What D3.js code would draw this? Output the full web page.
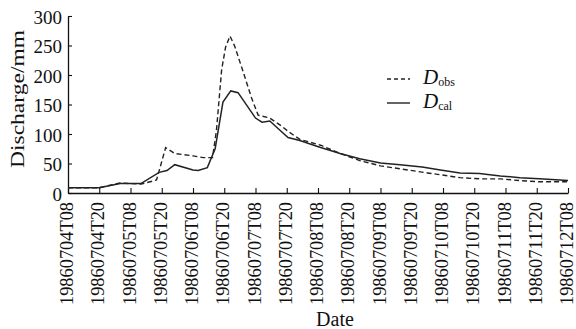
<!DOCTYPE html>
<html>
<head>
<meta charset="utf-8">
<script src="https://cdn.jsdelivr.net/npm/d3@7"></script>
<style>
  body { margin: 0; background: #fff; }
  text { font-family: "Liberation Serif", "DejaVu Serif", serif; fill: #111; }
</style>
</head>
<body>
<div id="main"></div>
<script>
// hours after 1986-07-04 08:00
var obsHours = [0, 12, 20, 28, 34, 37.5, 41, 48, 52, 55.5, 57, 59, 60.5, 62.2, 64, 67, 70.5, 73, 77.5, 81.5, 85, 89, 97, 104.5, 112, 120, 127.5, 138, 143, 150.5, 158, 166, 173.5, 181, 192]
var obsValues = [9, 9, 17, 15, 22, 77, 67, 63, 60, 60, 106, 209, 247, 266, 249, 209, 161, 132, 127, 115, 103, 91, 81, 67, 55, 46, 41, 34, 31, 26, 24, 24, 21, 19, 19]

var calHours = [0, 12, 20, 28, 35, 38, 41, 48, 50, 53.5, 56.5, 59.5, 62.5, 65.3, 72, 74.5, 77.5, 81.5, 84.5, 89, 97, 104.5, 112, 120, 127.5, 136, 143, 150.5, 158, 166, 173.5, 181, 192]
var calValues = [9, 9, 16, 16, 35, 38, 48, 39, 38, 43, 75, 154, 173, 170, 127, 120, 122, 106, 94, 89, 77, 67, 58, 51, 48, 44, 39, 34, 33, 29, 26, 24, 21]

var yTicks = [0, 50, 100, 150, 200, 250, 300]
var tickHours = d3.range(0, 193, 12)

var t0 = Date.UTC(1986, 6, 4, 8)
var toDate = h => new Date(t0 + h * 3600 * 1000)

var svg = d3.select("#main").append("svg").attr("width", 576).attr("height", 329)

var x = d3.scaleUtc().domain([toDate(0), toDate(192)]).range([68, 568])
var y = d3.scaleLinear().domain([0, 300]).range([193, 16])

var fmt = d3.utcFormat("%Y%m%dT%H")

var xAxis = svg.append("g").attr("transform", "translate(0,193)")
  .call(d3.axisBottom(x).tickValues(tickHours.map(toDate)).tickFormat(fmt).tickSizeInner(-5).tickSizeOuter(0))
xAxis.select(".domain").attr("stroke", "#111").attr("stroke-width", 1.3)
xAxis.selectAll(".tick line").attr("stroke", "#111").attr("stroke-width", 1.1)
xAxis.selectAll(".tick text")
  .attr("font-size", 18)
  .attr("text-anchor", "end")
  .attr("transform", "rotate(-90)")
  .attr("x", -9)
  .attr("y", 0)
  .attr("dy", "0.25em")
  .attr("textLength", 103)
  .attr("lengthAdjust", "spacingAndGlyphs")

var yAxis = svg.append("g").attr("transform", "translate(68,0)")
  .call(d3.axisLeft(y).tickValues(yTicks).tickSizeInner(-4).tickSizeOuter(0).tickPadding(6))
yAxis.select(".domain").attr("stroke", "#111").attr("stroke-width", 1.3)
yAxis.selectAll(".tick line").attr("stroke", "#111").attr("stroke-width", 1.1)
yAxis.selectAll(".tick text").attr("font-size", 19).attr("dy", "0.38em")

var line = d3.line().x(d => x(toDate(d[0]))).y(d => y(d[1]))

svg.append("path")
  .datum(d3.zip(calHours, calValues))
  .attr("d", line)
  .attr("fill", "none")
  .attr("stroke", "#222")
  .attr("stroke-width", 1.5)

svg.append("path")
  .datum(d3.zip(obsHours, obsValues))
  .attr("d", line)
  .attr("fill", "none")
  .attr("stroke", "#222")
  .attr("stroke-width", 1.4)
  .attr("stroke-dasharray", "5,3")

// axis titles
svg.append("text")
  .attr("transform", "translate(24,99) rotate(-90)")
  .attr("text-anchor", "middle")
  .attr("font-size", 19)
  .attr("textLength", 138)
  .attr("lengthAdjust", "spacingAndGlyphs")
  .text("Discharge/mm")

svg.append("text")
  .attr("x", 335)
  .attr("y", 326)
  .attr("text-anchor", "middle")
  .attr("font-size", 20)
  .text("Date")

// legend
var legend = [
  { name: "obs", dash: "4,3", y: 79 },
  { name: "cal", dash: null, y: 103 }
]
legend.forEach(l => {
  svg.append("line")
    .attr("x1", 387).attr("x2", 410).attr("y1", l.y).attr("y2", l.y)
    .attr("stroke", "#222").attr("stroke-width", 1.4)
    .attr("stroke-dasharray", l.dash)
  var t = svg.append("text").attr("x", 423).attr("y", l.y + 5).attr("font-size", 21)
  t.append("tspan").attr("font-style", "italic").text("D")
  t.append("tspan").attr("font-size", 12).attr("dy", 2).text(l.name)
})
</script>
</body>
</html>
